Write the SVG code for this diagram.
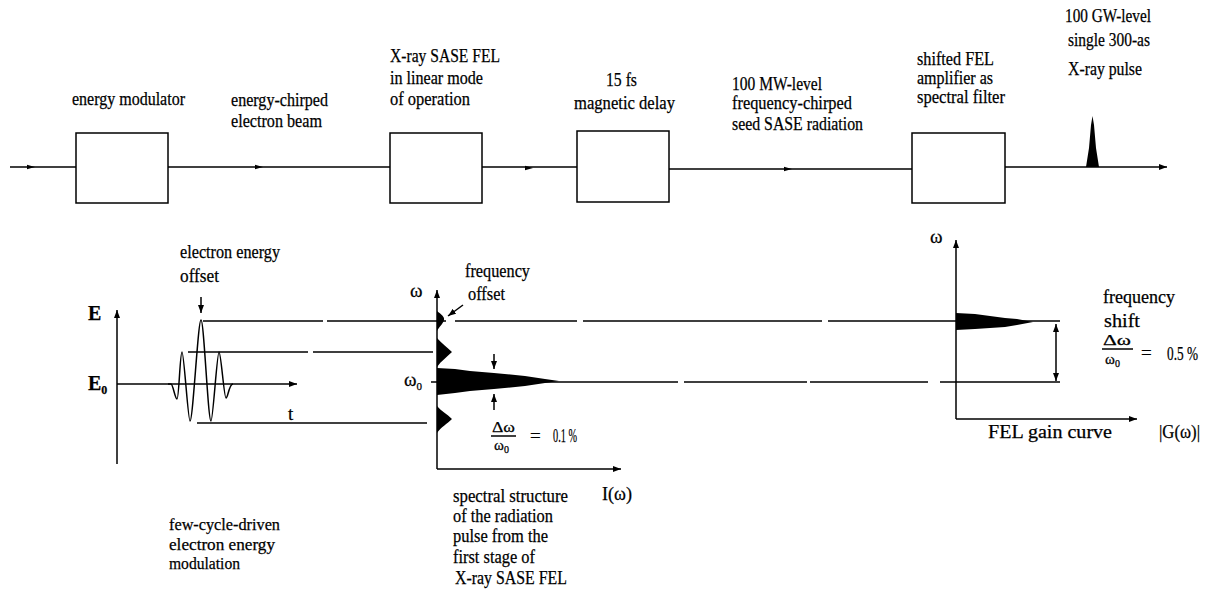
<svg xmlns="http://www.w3.org/2000/svg" width="1214" height="603" viewBox="0 0 1214 603">
<style>
.t{font-family:"Liberation Serif","Times New Roman",serif;font-size:19px;fill:#000;stroke:#000;stroke-width:0.25}
.s{font-size:17px}
.b{font-weight:bold;font-size:20px}
.ln{stroke:#000;stroke-width:1.5;fill:none}
.box{stroke:#000;stroke-width:1.5;fill:#fff}
.f{fill:#000;stroke:none}
</style>
<defs>
<marker id="ah" markerUnits="userSpaceOnUse" markerWidth="9" markerHeight="7" refX="8" refY="3.5" orient="auto">
<path d="M0,0.5 L8,3.5 L0,6.5 z" fill="#000"/>
</marker>
<path id="mid" d="M-4,-2.2 L4,0 L-4,2.2 z" fill="#000"/>
</defs>

<g id="connectors">
<line class="ln" x1="10" y1="167" x2="76" y2="167"/>
<line class="ln" x1="168" y1="167" x2="390" y2="167"/>
<line class="ln" x1="482" y1="167" x2="577" y2="167"/>
<line class="ln" x1="669" y1="169" x2="912" y2="169"/>
<line class="ln" x1="1005" y1="167" x2="1167" y2="167" marker-end="url(#ah)"/>
<use href="#mid" x="31" y="167"/>
<use href="#mid" x="259" y="167"/>
<use href="#mid" x="529" y="168"/>
<use href="#mid" x="788" y="169"/>
</g>

<g id="energy-modulator">
<rect class="box" x="76" y="133" width="92" height="70"/>
<text class="t" x="72" y="105" textLength="113" lengthAdjust="spacingAndGlyphs">energy modulator</text>
</g>
<g id="beam-label">
<text class="t" x="231" y="106" textLength="97" lengthAdjust="spacingAndGlyphs">energy-chirped</text>
<text class="t" x="231" y="127" textLength="91" lengthAdjust="spacingAndGlyphs">electron beam</text>
</g>
<g id="sase-fel">
<rect class="box" x="390" y="133" width="92" height="70"/>
<text class="t" x="390" y="62" textLength="110" lengthAdjust="spacingAndGlyphs">X-ray SASE FEL</text>
<text class="t" x="390" y="84" textLength="93" lengthAdjust="spacingAndGlyphs">in linear mode</text>
<text class="t" x="390" y="105" textLength="80" lengthAdjust="spacingAndGlyphs">of operation</text>
</g>
<g id="magnetic-delay">
<rect class="box" x="577" y="131" width="92" height="71"/>
<text class="t" x="606" y="86" textLength="31" lengthAdjust="spacingAndGlyphs">15 fs</text>
<text class="t" x="574" y="109" textLength="101" lengthAdjust="spacingAndGlyphs">magnetic  delay</text>
</g>
<g id="seed-label">
<text class="t" x="732" y="90" textLength="90" lengthAdjust="spacingAndGlyphs">100 MW-level</text>
<text class="t" x="732" y="109" textLength="120" lengthAdjust="spacingAndGlyphs">frequency-chirped</text>
<text class="t" x="732" y="130" textLength="131" lengthAdjust="spacingAndGlyphs">seed SASE  radiation</text>
</g>
<g id="shifted-fel">
<rect class="box" x="912" y="133" width="93" height="70"/>
<text class="t" x="917" y="65" textLength="77" lengthAdjust="spacingAndGlyphs">shifted FEL</text>
<text class="t" x="917" y="84" textLength="76" lengthAdjust="spacingAndGlyphs">amplifier as</text>
<text class="t" x="917" y="103" textLength="88" lengthAdjust="spacingAndGlyphs">spectral filter</text>
</g>
<g id="output-pulse">
<path class="f" d="M1086,167 L1089,148 L1091,125 L1092.5,116 L1094,125 L1096,148 L1099,167 Z"/>
<text class="t" x="1065" y="22" textLength="86" lengthAdjust="spacingAndGlyphs">100 GW-level</text>
<text class="t" x="1068" y="46" textLength="82" lengthAdjust="spacingAndGlyphs">single 300-as</text>
<text class="t" x="1068" y="75" textLength="74" lengthAdjust="spacingAndGlyphs">X-ray pulse</text>
</g>

<g id="energy-plot">
<line class="ln" x1="117" y1="464" x2="117" y2="310" marker-end="url(#ah)"/>
<line class="ln" x1="117" y1="384" x2="297" y2="384" marker-end="url(#ah)"/>
<text class="t b" x="88" y="320">E</text>
<text class="t b" x="88" y="390">E<tspan font-size="12" dy="4">0</tspan></text>
<text class="t" x="288" y="420">t</text>
<path class="ln" stroke-width="1.3" d="M168,384 L171,384 C173,384 175,399 177,399 C179,399 180,352 182,352 C184,352 188,421 190,421 C193,421 198,320 201,320 C204,320 208,421 211,421 C213,421 217,352 219,352 C221,352 224,398 226,398 C228,398 229,384 233,384"/>
<line class="ln" x1="201" y1="297" x2="201" y2="313" marker-end="url(#ah)"/>
<text class="t" x="180" y="258" textLength="100" lengthAdjust="spacingAndGlyphs">electron energy</text>
<text class="t" x="180" y="282" textLength="39" lengthAdjust="spacingAndGlyphs">offset</text>
<text class="t s" x="169" y="530" textLength="111" lengthAdjust="spacingAndGlyphs">few-cycle-driven</text>
<text class="t s" x="169" y="550" textLength="106" lengthAdjust="spacingAndGlyphs">electron energy</text>
<text class="t s" x="169" y="569" textLength="71" lengthAdjust="spacingAndGlyphs">modulation</text>
</g>

<g id="level-lines">
<path class="ln" d="M203,321 H323 M327,321 H446 M455,321 H577 M583,321 H822 M828,321 H1060"/>
<path class="ln" d="M188,352 H308 M313,352 H433"/>
<path class="ln" d="M431,382 H678 M684,382 H807 M810,382 H928 M940,382 H1060"/>
<path class="ln" d="M197,423 H427"/>
</g>

<g id="spectrum-plot">
<line class="ln" x1="437" y1="469" x2="437" y2="290" marker-end="url(#ah)"/>
<line class="ln" x1="437" y1="469" x2="621" y2="469" marker-end="url(#ah)"/>
<text class="t" x="410" y="297">ω</text>
<text class="t" x="404" y="386">ω<tspan font-size="11" dy="4">0</tspan></text>
<path class="f" d="M437,311 C441,314 445,317 444,320 C443,324 439,327 437,331 Z"/>
<path class="f" d="M437,338 C441,343 447,347 452,352 C447,357 441,361 437,367 Z"/>
<path class="f" d="M437,368 L455,369 L470,371 L494,373 L525,376 L545,379 L559,381 L545,383 L525,386 L494,389 L470,391 L455,393 L437,395 Z"/>
<path class="f" d="M437,406 C441,411 447,414 452,419 C447,424 441,427 437,433 Z"/>
<line class="ln" x1="494" y1="354" x2="494" y2="369" marker-end="url(#ah)"/>
<line class="ln" x1="494" y1="410" x2="494" y2="394" marker-end="url(#ah)"/>
<line class="ln" stroke-width="1.2" x1="463" y1="305" x2="448" y2="316" marker-end="url(#ah)"/>
<text class="t" x="465" y="277" textLength="65" lengthAdjust="spacingAndGlyphs">frequency</text>
<text class="t" x="468" y="300" textLength="37" lengthAdjust="spacingAndGlyphs">offset</text>
<text class="t" x="492" y="432" textLength="23" lengthAdjust="spacingAndGlyphs" style="font-size:15px">Δω</text>
<line class="ln" stroke-width="1.2" x1="491" y1="436" x2="516" y2="436"/>
<text class="t" x="494" y="450" style="font-size:15px">ω<tspan font-size="10" dy="3">0</tspan></text>
<text class="t" x="530" y="442">=</text>
<text class="t" x="553" y="442" textLength="24" lengthAdjust="spacingAndGlyphs">0.1 %</text>
<text class="t" x="602" y="500" textLength="30" lengthAdjust="spacingAndGlyphs">I(ω)</text>
<text class="t" x="453" y="502" textLength="115" lengthAdjust="spacingAndGlyphs">spectral structure</text>
<text class="t" x="453" y="522" textLength="100" lengthAdjust="spacingAndGlyphs">of the radiation</text>
<text class="t" x="453" y="542" textLength="95" lengthAdjust="spacingAndGlyphs">pulse from the</text>
<text class="t" x="453" y="563" textLength="82" lengthAdjust="spacingAndGlyphs">first stage of</text>
<text class="t" x="455" y="584" textLength="112" lengthAdjust="spacingAndGlyphs">X-ray SASE FEL</text>
</g>

<g id="gain-plot">
<line class="ln" x1="956" y1="419" x2="956" y2="240" marker-end="url(#ah)"/>
<line class="ln" x1="956" y1="419" x2="1137" y2="419" marker-end="url(#ah)"/>
<text class="t" x="930" y="243">ω</text>
<path class="f" d="M956,313 L975,314 L990,316 L1005,318 L1017,319 L1033,322 L1017,325 L1005,327 L990,328 L975,329 L956,330 Z"/>
<line class="ln" x1="1056" y1="350" x2="1056" y2="324" marker-end="url(#ah)"/>
<line class="ln" x1="1056" y1="350" x2="1056" y2="381" marker-end="url(#ah)"/>
<text class="t" x="1103" y="303" textLength="72" lengthAdjust="spacingAndGlyphs">frequency</text>
<text class="t" x="1104" y="327" textLength="36" lengthAdjust="spacingAndGlyphs">shift</text>
<text class="t" x="1103" y="345" textLength="28" lengthAdjust="spacingAndGlyphs" style="font-size:15px">Δω</text>
<line class="ln" stroke-width="1.2" x1="1102" y1="349" x2="1133" y2="349"/>
<text class="t" x="1105" y="364" style="font-size:15px">ω<tspan font-size="10" dy="3">0</tspan></text>
<text class="t" x="1141" y="359">=</text>
<text class="t" x="1167" y="360" textLength="31" lengthAdjust="spacingAndGlyphs">0.5 %</text>
<text class="t" x="988" y="438" textLength="124" lengthAdjust="spacingAndGlyphs">FEL gain curve</text>
<text class="t" x="1159" y="438" textLength="41" lengthAdjust="spacingAndGlyphs">|G(ω)|</text>
</g>
</svg>
